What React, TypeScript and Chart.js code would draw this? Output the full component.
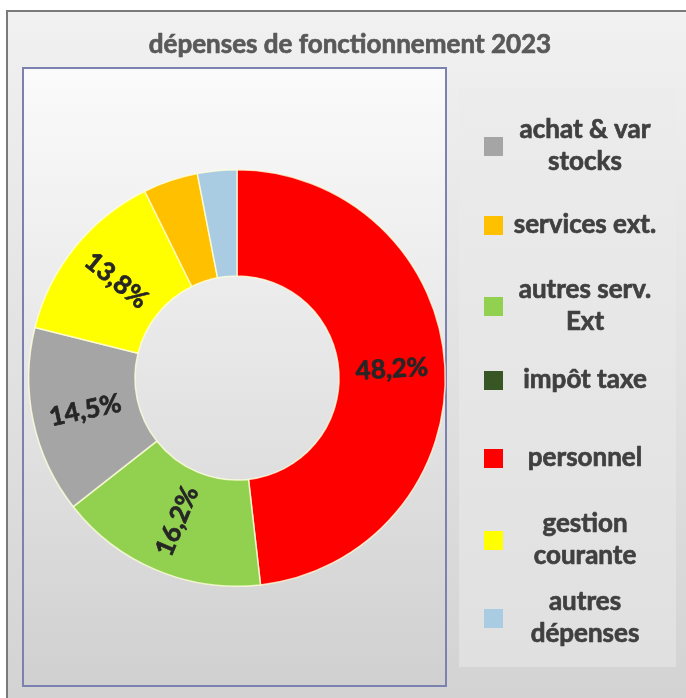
import React, { useEffect, useRef } from "react";
import { Chart, registerables } from "chart.js";

Chart.register(...registerables);

const TITLE = "dépenses de fonctionnement 2023";

// slices, in the drawing order (clockwise from 12 o'clock)
const categories = [
  "personnel",
  "autres serv. Ext",
  "achat & var stocks",
  "gestion courante",
  "services ext.",
  "autres dépenses",
  "impôt taxe",
];
const values = [48.2, 16.2, 14.5, 13.8, 4.25, 3.05, 0];
const colors = ["#ff0000", "#92d050", "#a5a5a5", "#ffff00", "#ffc000", "#a9cce3", "#375623"];

// legend order and line breaks
const legendOrder = [
  "achat & var stocks",
  "services ext.",
  "autres serv. Ext",
  "impôt taxe",
  "personnel",
  "gestion courante",
  "autres dépenses",
];
const legendLines = [
  ["achat & var", "stocks"],
  ["services ext."],
  ["autres serv.", "Ext"],
  ["impôt taxe"],
  ["personnel"],
  ["gestion", "courante"],
  ["autres", "dépenses"],
];

const FONT = "Lato, 'Open Sans', sans-serif";

function boldText(ctx: CanvasRenderingContext2D, s: string, x: number, y: number, color: string) {
  ctx.fillStyle = color;
  ctx.strokeStyle = color;
  ctx.lineWidth = 0.7;
  ctx.lineJoin = "round";
  ctx.fillText(s, x, y);
  ctx.strokeText(s, x, y);
}

const framePlugin = {
  id: "frame",
  beforeDraw(chart: any) {
    const { ctx, width, height } = chart;
    ctx.save();
    ctx.fillStyle = "#ffffff";
    ctx.fillRect(0, 0, width, height);
    const g = ctx.createLinearGradient(0, 10, 0, height);
    g.addColorStop(0, "#f1f1f1");
    g.addColorStop(1, "#d3d3d3");
    ctx.fillStyle = g;
    ctx.fillRect(6, 10, width - 6, height - 10);
    ctx.strokeStyle = "#7a7a7a";
    ctx.lineWidth = 2;
    ctx.beginPath();
    ctx.moveTo(7, height);
    ctx.lineTo(7, 11);
    ctx.lineTo(width, 11);
    ctx.stroke();

    // plot area box
    const pg = ctx.createLinearGradient(0, 68, 0, 686);
    pg.addColorStop(0, "#fbfbfb");
    pg.addColorStop(1, "#d0d0d0");
    ctx.fillStyle = pg;
    ctx.fillRect(23, 68, 423, 618);
    ctx.strokeStyle = "#7b82b0";
    ctx.lineWidth = 2;
    ctx.strokeRect(23, 68, 423, 618);

    // legend box
    const lg = ctx.createLinearGradient(0, 88, 0, 667);
    lg.addColorStop(0, "#ececec");
    lg.addColorStop(1, "#e0e0e0");
    ctx.fillStyle = lg;
    ctx.fillRect(459, 88, 217, 579);
    ctx.restore();
  },
  afterDraw(chart: any) {
    const { ctx } = chart;
    ctx.save();
    // title
    ctx.font = `bold 26px ${FONT}`;
    ctx.textAlign = "center";
    ctx.textBaseline = "middle";
    boldText(ctx, TITLE, 350, 45, "#595959");

    // slice labels
    const meta = chart.getDatasetMeta(0);
    const data = chart.data.datasets[0].data as number[];
    meta.data.forEach((arc: any, i: number) => {
      const v = data[i];
      if (v < 10) return;
      const p = arc.getProps(["x", "y", "startAngle", "endAngle", "innerRadius", "outerRadius"], true);
      const a = (p.startAngle + p.endAngle) / 2;
      const r = (p.innerRadius + p.outerRadius) / 2;
      const x = p.x + r * Math.cos(a);
      const y = p.y + r * Math.sin(a);
      const rot = Math.cos(a) >= 0 ? a : a + Math.PI;
      ctx.save();
      ctx.translate(x, y);
      ctx.rotate(rot);
      ctx.font = `bold 26px ${FONT}`;
      ctx.textAlign = "center";
      ctx.textBaseline = "middle";
      boldText(ctx, v.toFixed(1).replace(".", ",") + "%", 0, 0, "#262626");
      ctx.restore();
    });

    // legend
    const centers = [146, 225, 306, 380, 458, 540, 618];
    legendOrder.forEach((name, k) => {
      const idx = categories.indexOf(name);
      const lines = legendLines[k];
      const cy = centers[k];
      ctx.fillStyle = colors[idx];
      ctx.fillRect(484, cy - 9, 19, 19);
      ctx.font = `bold 26px ${FONT}`;
      ctx.textAlign = "center";
      ctx.textBaseline = "middle";
      const lh = 32;
      lines.forEach((ln, j) => {
        const ly = cy + (j - (lines.length - 1) / 2) * lh;
        boldText(ctx, ln, 585, ly, "#404040");
      });
    });
    ctx.restore();
  },
};

export default function App() {
  const ref = useRef<HTMLCanvasElement | null>(null);
  useEffect(() => {
    if (!ref.current) return;
    const chart = new Chart(ref.current, {
      type: "doughnut",
      data: {
        labels: categories,
        datasets: [
          {
            data: values,
            backgroundColor: colors,
            borderColor: "rgba(255,255,220,0.8)",
            borderWidth: 1.5,
          },
        ],
      },
      options: {
        responsive: false,
        animation: false,
        cutout: "49%",
        layout: { padding: { left: 28, top: 169, right: 240, bottom: 111 } },
        plugins: {
          legend: { display: false },
          title: { display: false },
          tooltip: { enabled: false },
        },
      },
      plugins: [framePlugin],
    });
    return () => chart.destroy();
  }, []);
  return (
    <div style={{ position: "fixed", left: 0, top: 0, width: 686, height: 698 }}>
      <canvas ref={ref} width={686} height={698} style={{ display: "block" }} />
    </div>
  );
}
